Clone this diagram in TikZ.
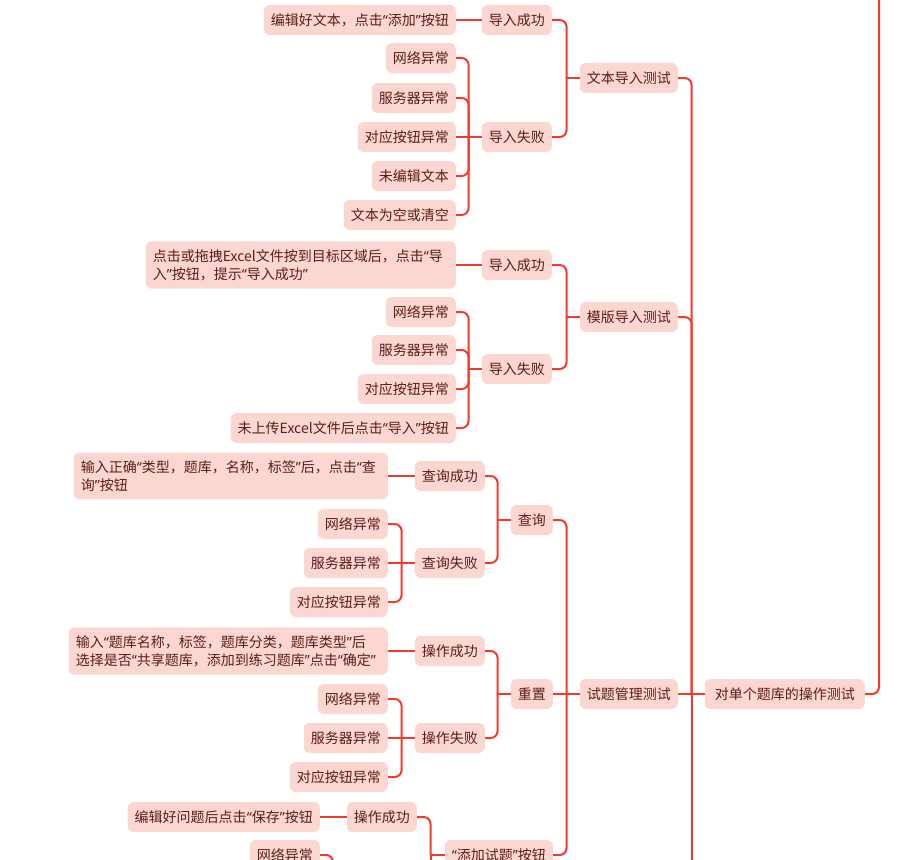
\documentclass[tikz,border=0pt]{standalone}
\usepackage{fontspec}
\setmainfont{Noto Sans CJK SC}
\newfontfamily\qfont{Noto Sans} % virgolette strette
\newcommand{\qo}{{\qfont “}}
\newcommand{\qc}{{\qfont ”}}
\usepackage{xcolor}
\usepackage{tikz}
\usetikzlibrary{
	positioning,    % posizionamento relativo
	calc            % coordinate calcolate
}
\definecolor{nodo}{HTML}{FCD6D0}
\definecolor{rosso}{HTML}{F23A2C}
\definecolor{testo}{HTML}{5A1E16}

\begin{document}
\begin{tikzpicture}[x=1pt, y=-1pt,
		box/.style={fill=nodo, rounded corners=6pt, text=testo, anchor=east,
			font=\fontsize{14}{18}\selectfont, minimum height=30pt,
			inner xsep=7pt, inner ysep=8pt},
		lungo/.style={box, align=left, text width=#1},
		ramo/.style={draw=rosso, line width=2pt},
		curva/.style={ramo, rounded corners=7pt}]
		% Area visibile (come l'immagine originale)
		\clip (0,0) rectangle (915,859);
		\def\dx{13} % distanza tra nodo e linea verticale
		
		% --- Nodi ---
		% Livello 1
		\node[box, inner xsep=10pt] (op) at (865,694) {对单个题库的操作测试};
		% Livello 2
		\node[box] (txt) at (678,78) {文本导入测试};
		\node[box] (tpl) at (678,317) {模版导入测试};
		\node[box] (mgr) at (678,694) {试题管理测试};
		
		% Testo: successo / fallimento
		\node[box] (txtOk) at (552,20) {导入成功};
		\node[box] (txtKo) at (552,137) {导入失败};
		\node[box] (txtOkA) at (456,20) {编辑好文本，点击\qo 添加\qc 按钮};
		\node[box] (txtKo1) at (456,58) {网络异常};
		\node[box] (txtKo2) at (456,98) {服务器异常};
		\node[box] (txtKo3) at (456,137) {对应按钮异常};
		\node[box] (txtKo4) at (456,176) {未编辑文本};
		\node[box] (txtKo5) at (456,215) {文本为空或清空};
		
		% Modello: successo / fallimento
		\node[box] (tplOk) at (552,265) {导入成功};
		\node[box] (tplKo) at (552,369) {导入失败};
		\node[lungo=296pt] (tplOkA) at (456,265) {点击或拖拽Excel文件按到目标区域后，点击\qo 导\\入\qc 按钮，提示\qo 导入成功\qc};
		\node[box] (tplKo1) at (456,312) {网络异常};
		\node[box] (tplKo2) at (456,350) {服务器异常};
		\node[box] (tplKo3) at (456,389) {对应按钮异常};
		\node[box] (tplKo4) at (456,428) {未上传Excel文件后点击\qo 导入\qc 按钮};
		
		% Gestione: query, reset, aggiunta
		\node[box] (qry) at (553,520) {查询};
		\node[box] (rst) at (553,694) {重置};
		\node[box] (add) at (553,855) {\qo 添加试题\qc 按钮};
		
		\node[box] (qryOk) at (485,476) {查询成功};
		\node[box] (qryKo) at (485,563) {查询失败};
		\node[lungo=300pt] (qryOkA) at (388,476) {输入正确\qo 类型，题库，名称，标签\qc 后，点击\qo 查\\询\qc 按钮};
		\node[box] (qryKo1) at (388,524) {网络异常};
		\node[box] (qryKo2) at (388,563) {服务器异常};
		\node[box] (qryKo3) at (388,602) {对应按钮异常};
		
		\node[box] (rstOk) at (485,651) {操作成功};
		\node[box] (rstKo) at (485,738) {操作失败};
		\node[lungo=305pt] (rstOkA) at (388,651) {输入\qo 题库名称，标签，题库分类，题库类型\qc 后\\选择是否\qo 共享题库，添加到练习题库\qc 点击\qo 确定\qc};
		\node[box] (rstKo1) at (388,699) {网络异常};
		\node[box] (rstKo2) at (388,738) {服务器异常};
		\node[box] (rstKo3) at (388,777) {对应按钮异常};
		
		\node[box] (addOk) at (417,817) {操作成功};
		\node[box] (addOkA) at (320,817) {编辑好问题后点击\qo 保存\qc 按钮};
		\node[box] (addKo1) at (320,855) {网络异常};
		
		% --- Collegamenti ---
		% Verso il nodo padre (fuori immagine)
		\draw[curva] (op.east) -- ++(14,0) -- ++(0,-720);
		
		% Livello 1 -> livello 2
		\draw[ramo] (op.west) -- ++(-\dx,0) coordinate (opB);
		\draw[ramo] (opB) -- ++(0,200);
		\foreach \c in {txt, tpl} \draw[curva] (opB) |- (\c.east);
		\draw[ramo] (opB) -- (mgr.east);
		
		% Testo
		\draw[ramo] (txt.west) -- ++(-\dx,0) coordinate (txtB);
		\foreach \c in {txtOk, txtKo} \draw[curva] (txtB) |- (\c.east);
		\draw[ramo] (txtOk.west) -- (txtOkA.east);
		\draw[ramo] (txtKo.west) -- ++(-\dx,0) coordinate (txtKoB);
		\foreach \c in {txtKo1, txtKo2, txtKo4, txtKo5} \draw[curva] (txtKoB) |- (\c.east);
		\draw[ramo] (txtKoB) -- (txtKo3.east);
		
		% Modello
		\draw[ramo] (tpl.west) -- ++(-\dx,0) coordinate (tplB);
		\foreach \c in {tplOk, tplKo} \draw[curva] (tplB) |- (\c.east);
		\draw[ramo] (tplOk.west) -- (tplOkA.east);
		\draw[ramo] (tplKo.west) -- ++(-\dx,0) coordinate (tplKoB);
		\foreach \c in {tplKo1, tplKo2, tplKo3, tplKo4} \draw[curva] (tplKoB) |- (\c.east);
		
		% Gestione
		\draw[ramo] (mgr.west) -- ++(-\dx,0) coordinate (mgrB);
		\foreach \c in {qry, add} \draw[curva] (mgrB) |- (\c.east);
		\draw[ramo] (mgrB) -- (rst.east);
		
		\draw[ramo] (qry.west) -- ++(-\dx,0) coordinate (qryB);
		\foreach \c in {qryOk, qryKo} \draw[curva] (qryB) |- (\c.east);
		\draw[ramo] (qryOk.west) -- (qryOkA.east);
		\draw[ramo] (qryKo.west) -- ++(-\dx,0) coordinate (qryKoB);
		\foreach \c in {qryKo1, qryKo3} \draw[curva] (qryKoB) |- (\c.east);
		\draw[ramo] (qryKoB) -- (qryKo2.east);
		
		\draw[ramo] (rst.west) -- ++(-\dx,0) coordinate (rstB);
		\foreach \c in {rstOk, rstKo} \draw[curva] (rstB) |- (\c.east);
		\draw[ramo] (rstOk.west) -- (rstOkA.east);
		\draw[ramo] (rstKo.west) -- ++(-\dx,0) coordinate (rstKoB);
		\foreach \c in {rstKo1, rstKo3} \draw[curva] (rstKoB) |- (\c.east);
		\draw[ramo] (rstKoB) -- (rstKo2.east);
		
		\draw[ramo] (add.west) -- ++(-14,0) coordinate (addB);
		\draw[ramo] (addB) -- ++(0,40);
		\draw[curva] (addB) |- (addOk.east);
		\draw[ramo] (addOk.west) -- (addOkA.east);
		\draw[curva] (addKo1.east) -- ++(\dx,0) -- ++(0,40);
	\end{tikzpicture}
\end{document}
